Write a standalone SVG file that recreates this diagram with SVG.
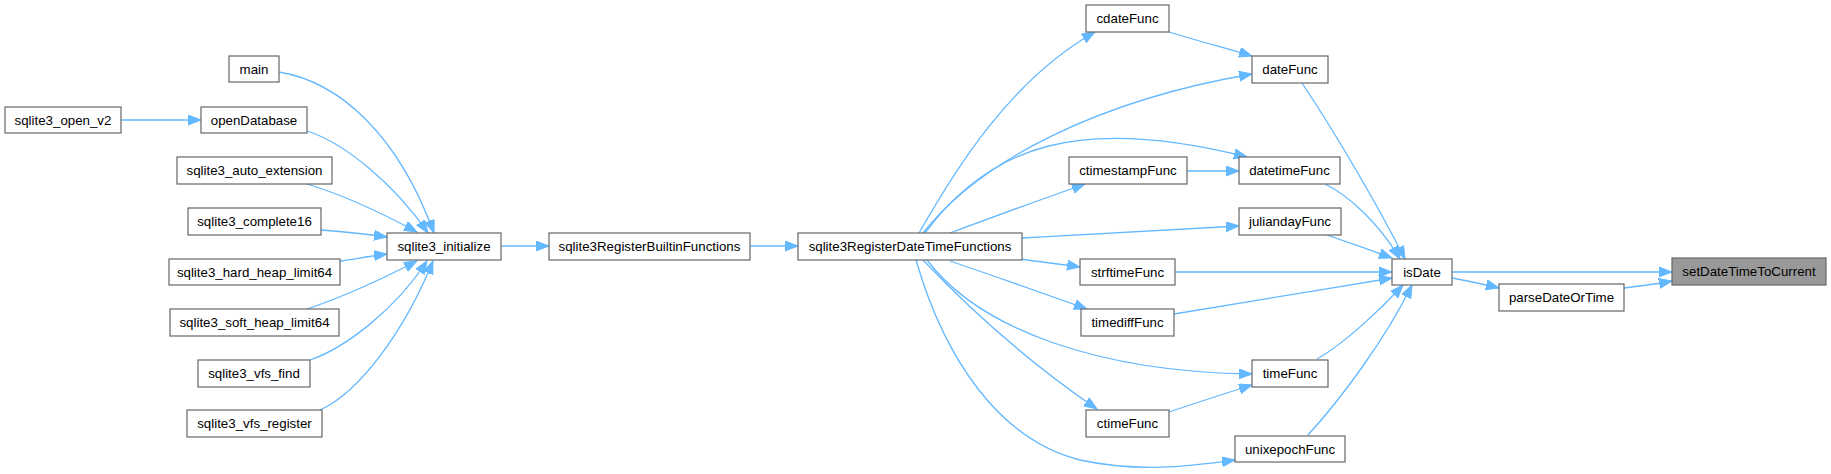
<svg xmlns="http://www.w3.org/2000/svg" width="1831" height="474" viewBox="0 0 1831 474">
<style>
.n rect{fill:#ffffff;stroke:#666666;stroke-width:1.2}
.n.root rect{fill:#999999}
.n text{font-family:"Liberation Sans",Arial,sans-serif;font-size:13.3px;fill:#000000;text-anchor:middle}
#edges path{fill:none;stroke:#63b8ff;stroke-width:1.3;marker-end:url(#arr)}
</style>
<defs>
<marker id="arr" markerUnits="userSpaceOnUse" markerWidth="14" markerHeight="11" refX="13" refY="5" orient="auto">
<path d="M0,0 L13,5 L0,10 Z" fill="#63b8ff" stroke="#63b8ff" stroke-width="1"/>
</marker>
</defs>
<rect width="1831" height="474" fill="#ffffff"/>
<g id="edges">
<path d="M121,120 L201,120"/>
<path d="M279,72 C340,82 398,135 434,233"/>
<path d="M307,131 C345,143 395,185 428,233"/>
<path d="M307,184 C340,194 380,212 417,232"/>
<path d="M321,230 C345,232 365,234 387,237"/>
<path d="M340,261 C355,259 370,256 387,254"/>
<path d="M307,309 C340,298 380,280 417,261"/>
<path d="M310,360 C345,348 395,310 427,261"/>
<path d="M320,410 C360,392 405,330 433,261"/>
<path d="M501,246 L549,246"/>
<path d="M750,246 L798,246"/>
<path d="M919,233 C955,170 1010,80 1095,32"/>
<path d="M923,233 C980,160 1100,100 1252,74"/>
<path d="M925,233 C990,145 1080,115 1247,157"/>
<path d="M950,233 C990,218 1040,200 1085,184"/>
<path d="M1022,238 C1100,234 1180,229 1239,226"/>
<path d="M1020,259 C1040,262 1060,264 1080,267"/>
<path d="M950,261 C1000,278 1045,294 1087,309"/>
<path d="M927,260 C980,330 1100,372 1252,374"/>
<path d="M923,260 C980,320 1040,370 1097,409"/>
<path d="M916,260 C945,360 1000,440 1080,460 C1140,473 1190,466 1235,460"/>
<path d="M1169,32 C1195,40 1225,48 1252,56"/>
<path d="M1187,171 L1239,171"/>
<path d="M1169,412 C1190,405 1220,395 1252,385"/>
<path d="M1302,83 C1340,140 1380,210 1405,259"/>
<path d="M1325,184 C1350,196 1380,225 1400,259"/>
<path d="M1327,235 C1350,243 1370,250 1392,258"/>
<path d="M1175,272 L1392,272"/>
<path d="M1174,314 C1250,301 1320,290 1392,278"/>
<path d="M1317,359 C1345,343 1380,310 1403,285"/>
<path d="M1308,435 C1340,400 1385,340 1412,285"/>
<path d="M1452,272 L1672,272"/>
<path d="M1452,278 C1468,281 1483,284 1499,288"/>
<path d="M1624,288 C1640,286 1656,284 1672,281"/>
</g>
<g id="sqlite3_open_v2" class="n"><rect x="5" y="107" width="116" height="26"/><text x="63" y="125">sqlite3_open_v2</text></g>
<g id="openDatabase" class="n"><rect x="201" y="107" width="106" height="26"/><text x="254" y="125">openDatabase</text></g>
<g id="main" class="n"><rect x="229" y="56" width="50" height="26"/><text x="254" y="74">main</text></g>
<g id="sqlite3_auto_extension" class="n"><rect x="177" y="157" width="155" height="27"/><text x="254.5" y="175">sqlite3_auto_extension</text></g>
<g id="sqlite3_complete16" class="n"><rect x="188" y="208" width="133" height="27"/><text x="254.5" y="226">sqlite3_complete16</text></g>
<g id="sqlite3_hard_heap_limit64" class="n"><rect x="169" y="259" width="171" height="26"/><text x="254.5" y="277">sqlite3_hard_heap_limit64</text></g>
<g id="sqlite3_soft_heap_limit64" class="n"><rect x="170" y="309" width="169" height="27"/><text x="254.5" y="327">sqlite3_soft_heap_limit64</text></g>
<g id="sqlite3_vfs_find" class="n"><rect x="198" y="360" width="112" height="27"/><text x="254" y="378">sqlite3_vfs_find</text></g>
<g id="sqlite3_vfs_register" class="n"><rect x="187" y="410" width="135" height="27"/><text x="254.5" y="428">sqlite3_vfs_register</text></g>
<g id="sqlite3_initialize" class="n"><rect x="387" y="233" width="114" height="27"/><text x="444" y="251">sqlite3_initialize</text></g>
<g id="sqlite3RegisterBuiltinFunctions" class="n"><rect x="549" y="233" width="201" height="27"/><text x="649.5" y="251">sqlite3RegisterBuiltinFunctions</text></g>
<g id="sqlite3RegisterDateTimeFunctions" class="n"><rect x="798" y="233" width="224" height="27"/><text x="910" y="251">sqlite3RegisterDateTimeFunctions</text></g>
<g id="cdateFunc" class="n"><rect x="1086" y="5" width="83" height="27"/><text x="1127.5" y="23">cdateFunc</text></g>
<g id="dateFunc" class="n"><rect x="1252" y="56" width="76" height="27"/><text x="1290" y="74">dateFunc</text></g>
<g id="ctimestampFunc" class="n"><rect x="1069" y="157" width="118" height="27"/><text x="1128" y="175">ctimestampFunc</text></g>
<g id="datetimeFunc" class="n"><rect x="1239" y="157" width="101" height="27"/><text x="1289.5" y="175">datetimeFunc</text></g>
<g id="juliandayFunc" class="n"><rect x="1239" y="208" width="102" height="27"/><text x="1290" y="226">juliandayFunc</text></g>
<g id="strftimeFunc" class="n"><rect x="1080" y="259" width="95" height="26"/><text x="1127.5" y="277">strftimeFunc</text></g>
<g id="timediffFunc" class="n"><rect x="1081" y="309" width="93" height="27"/><text x="1127.5" y="327">timediffFunc</text></g>
<g id="timeFunc" class="n"><rect x="1252" y="360" width="76" height="27"/><text x="1290" y="378">timeFunc</text></g>
<g id="ctimeFunc" class="n"><rect x="1086" y="410" width="83" height="27"/><text x="1127.5" y="428">ctimeFunc</text></g>
<g id="unixepochFunc" class="n"><rect x="1235" y="436" width="110" height="26"/><text x="1290" y="454">unixepochFunc</text></g>
<g id="isDate" class="n"><rect x="1392" y="259" width="60" height="26"/><text x="1422" y="277">isDate</text></g>
<g id="parseDateOrTime" class="n"><rect x="1499" y="284" width="125" height="27"/><text x="1561.5" y="302">parseDateOrTime</text></g>
<g id="setDateTimeToCurrent" class="n root"><rect x="1672" y="258" width="154" height="27"/><text x="1749" y="276">setDateTimeToCurrent</text></g>
</svg>
